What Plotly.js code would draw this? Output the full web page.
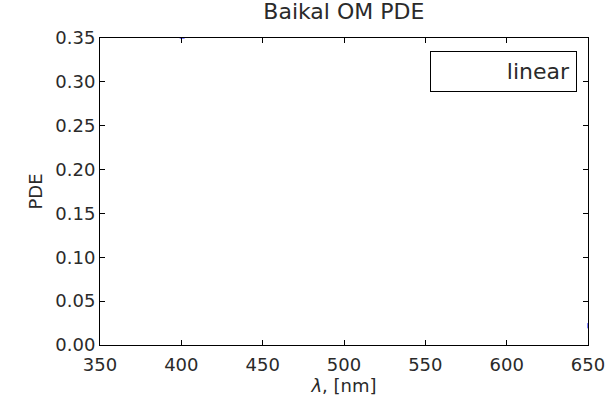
<!DOCTYPE html>
<html>
<head>
<meta charset="utf-8">
<script src="https://cdn.plot.ly/plotly-3.0.1.min.js"></script>
<style>html,body{margin:0;padding:0;background:#fff;}#chart{width:606px;height:397px;}</style>
</head>
<body>
<div id="chart"></div>
<script>
// Data (only small fragments of the curve are visible)
const wavelength = [399, 402, null, 650, 650];
const pde = [0.35, 0.35, null, 0.019, 0.025];
const seriesName = 'linear';
const xTicks = [350, 400, 450, 500, 550, 600, 650];
const yTicks = [0.00, 0.05, 0.10, 0.15, 0.20, 0.25, 0.30, 0.35];

const font = 'DejaVu Sans, sans-serif';
const txt = '#2a2a2a';
const axisCommon = {
  showgrid: false, zeroline: false,
  showline: true, linecolor: '#000', linewidth: 1, mirror: 'ticks',
  ticks: 'inside', ticklen: 5, tickcolor: '#000', tickwidth: 1,
  tickfont: {family: font, size: 18, color: txt}
};

const traces = [{
  x: wavelength, y: pde, name: seriesName, type: 'scatter', mode: 'lines',
  line: {color: '#0000ff', width: 1}, showlegend: false, connectgaps: false
}];

const layout = {
  width: 606, height: 397,
  margin: {l: 100, r: 18, t: 38, b: 52},
  paper_bgcolor: '#fff', plot_bgcolor: '#fff',
  title: {text: 'Baikal OM PDE', font: {family: font, size: 22, color: txt}, x: 0.5674, xanchor: 'center', y: 0.99, yanchor: 'top'},
  xaxis: Object.assign({}, axisCommon, {
    range: [350, 650], tickvals: xTicks, ticktext: xTicks.map(String),
    ticklabelstandoff: 3,
    title: {text: '<i>λ</i>, [nm]', font: {family: font, size: 18, color: txt}, standoff: 2}
  }),
  yaxis: Object.assign({}, axisCommon, {
    range: [0, 0.35], tickvals: yTicks, ticktext: yTicks.map(v => v.toFixed(2)),
    title: {text: 'PDE', font: {family: font, size: 18, color: txt}, standoff: 8}
  }),
  annotations: [{
    xref: 'paper', yref: 'paper', x: 0.977, y: 0.958, xanchor: 'right', yanchor: 'top',
    text: seriesName, showarrow: false, align: 'right', valign: 'middle',
    width: 133, height: 27, borderpad: 6, bordercolor: '#000', borderwidth: 1, bgcolor: '#fff',
    font: {family: font, size: 22, color: txt}
  }]
};

Plotly.newPlot('chart', traces, layout, {displayModeBar: false, staticPlot: true});
</script>
</body>
</html>
